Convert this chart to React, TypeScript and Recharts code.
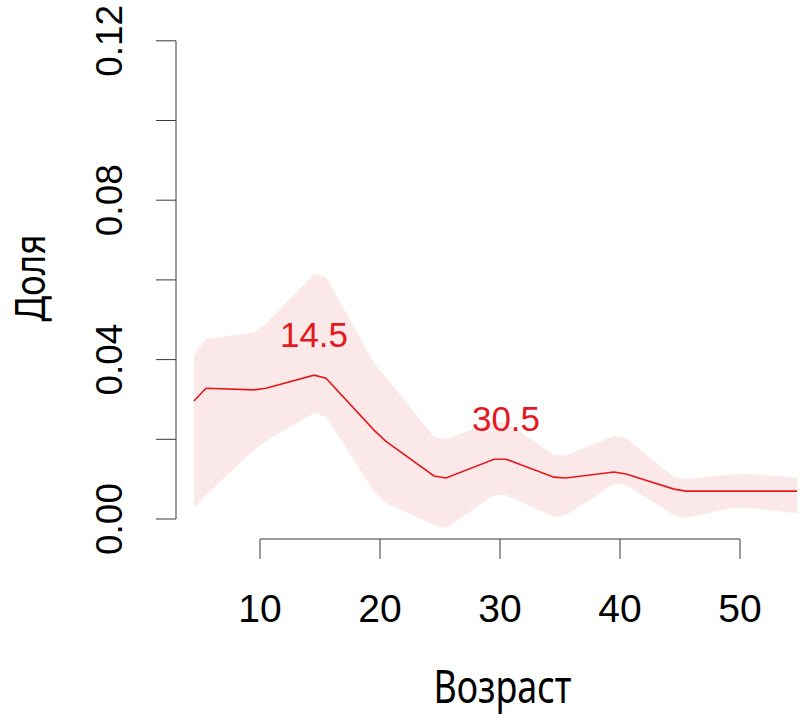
import React from "react";
import { ComposedChart, Line, Area, XAxis, YAxis, ReferenceLine, LabelList } from "recharts";

// Ages (x) of the smoothed curve
const ages = [4.5, 5.5, 9.5, 10.5, 14.5, 15.5, 19.5, 20.5, 24.5, 25.5, 29.5, 30.5, 34.5, 35.5, 39.5, 40.5, 44.5, 45.5, 49.5, 50.5, 54.5, 55.5];
// Share (Доля) estimate
const share = [0.0296, 0.0328, 0.0324, 0.0328, 0.0361, 0.0353, 0.0223, 0.0195, 0.0108, 0.0103, 0.015, 0.015, 0.0105, 0.0103, 0.0118, 0.0113, 0.0075, 0.007, 0.007, 0.007, 0.007, 0.007];
// Confidence band
const upper = [0.0411, 0.0451, 0.0468, 0.049, 0.0614, 0.0607, 0.0391, 0.0356, 0.0206, 0.02, 0.0245, 0.0243, 0.016, 0.016, 0.0208, 0.0203, 0.0105, 0.01, 0.0113, 0.0113, 0.0105, 0.0105];
const lower = [0.0028, 0.0061, 0.0173, 0.0196, 0.0266, 0.0256, 0.007, 0.004, -0.0015, -0.0023, 0.006, 0.006, 0.0005, 0.001, 0.0088, 0.0085, 0.001, 0.0003, 0.0028, 0.0028, 0.0015, 0.0015];
// Labelled peaks
const peakAges = [14.5, 30.5];

const xTicks = [10, 20, 30, 40, 50];
const yTicks = [0, 0.02, 0.04, 0.06, 0.08, 0.1, 0.12];
const yLabelTicks = [0, 0.04, 0.08, 0.12];

const xDomain = [3, 54.75];
const yDomain = [-0.00502, 0.12497];

const RED = "#e4191f";
const BAND = "#fbe8e8";
const AXIS = "#3a3a3a";
const NUM_FONT = "'Liberation Sans', Arial, sans-serif";
const TITLE_FONT = "'Noto Sans', 'Open Sans', sans-serif";

const data = ages.map((a, i) => ({
  age: a,
  share: share[i],
  band: [lower[i], upper[i]],
  peak: peakAges.includes(a) ? String(a) : undefined,
}));

const XTick = (props: any) => {
  const { x, y, payload } = props;
  return (
    <g>
      <line x1={x} x2={x} y1={y} y2={y + 20} stroke={AXIS} strokeWidth={1} />
      <text x={x} y={y + 83} textAnchor="middle" fontFamily={NUM_FONT} fontSize={39} fill="#000">
        {payload.value}
      </text>
    </g>
  );
};

const YTick = (props: any) => {
  const { x, y, payload } = props;
  const v = payload.value;
  const show = yLabelTicks.includes(v);
  const tx = x - 54;
  return (
    <g>
      <line x1={x - 20} x2={x} y1={y} y2={y} stroke={AXIS} strokeWidth={1} />
      {show && (
        <text
          x={tx}
          y={y}
          transform={`rotate(-90 ${tx} ${y})`}
          textAnchor="middle"
          fontFamily={NUM_FONT}
          fontSize={37}
          fill="#000"
        >
          {v.toFixed(2)}
        </text>
      )}
    </g>
  );
};

const XTitle = (props: any) => {
  const vb = props.viewBox || { x: 176, y: 539, width: 621, height: 182 };
  const cx = vb.x + vb.width / 2 + 16;
  return (
    <text x={cx} y={vb.y + 164} textAnchor="middle" fontFamily={TITLE_FONT} fontSize={46} fill="#000" textLength={138} lengthAdjust="spacingAndGlyphs">
      Возраст
    </text>
  );
};

const YTitle = (props: any) => {
  const vb = props.viewBox || { x: 0, y: 21, width: 176, height: 518 };
  const cy = vb.y + vb.height / 2 - 2;
  const bx = 45;
  return (
    <text x={bx} y={cy} transform={`rotate(-90 ${bx} ${cy})`} textAnchor="middle" fontFamily={TITLE_FONT} fontSize={42} fill="#000" textLength={87} lengthAdjust="spacingAndGlyphs">
      Доля
    </text>
  );
};

const PeakLabel = (props: any) => {
  const { x, y, value } = props;
  if (value === undefined || value === null) return null;
  return (
    <text x={x} y={y - 28} textAnchor="middle" fontFamily={NUM_FONT} fontSize={35} fill={RED}>
      {value}
    </text>
  );
};

export default function App() {
  return (
    <div style={{ position: "absolute", left: 0, top: 0, width: 801, height: 721, background: "#fff" }}>
      <ComposedChart width={801} height={721} data={data} margin={{ top: 21, right: 4, bottom: 0, left: 0 }}>
        <XAxis
          dataKey="age"
          type="number"
          domain={xDomain}
          allowDataOverflow
          ticks={xTicks}
          interval={0}
          axisLine={false}
          tickLine={false}
          tickSize={0}
          tickMargin={0}
          height={182}
          tick={<XTick />}
          label={<XTitle />}
        />
        <YAxis
          type="number"
          domain={yDomain}
          allowDataOverflow
          ticks={yTicks}
          interval={0}
          axisLine={false}
          tickLine={false}
          tickSize={0}
          tickMargin={0}
          width={176}
          tick={<YTick />}
          label={<YTitle />}
        />
        <Area dataKey="band" stroke="none" fill={BAND} fillOpacity={1} isAnimationActive={false} type="linear" />
        <Line dataKey="share" stroke={RED} strokeWidth={1.6} dot={false} isAnimationActive={false} type="linear">
          <LabelList dataKey="peak" content={<PeakLabel />} />
        </Line>
        <ReferenceLine
          segment={[{ x: xTicks[0], y: yDomain[0] }, { x: xTicks[xTicks.length - 1], y: yDomain[0] }]}
          stroke={AXIS}
          strokeWidth={1}
          ifOverflow="visible"
        />
        <ReferenceLine
          segment={[{ x: xDomain[0], y: yTicks[0] }, { x: xDomain[0], y: yTicks[yTicks.length - 1] }]}
          stroke={AXIS}
          strokeWidth={1}
          ifOverflow="visible"
        />
      </ComposedChart>
    </div>
  );
}
